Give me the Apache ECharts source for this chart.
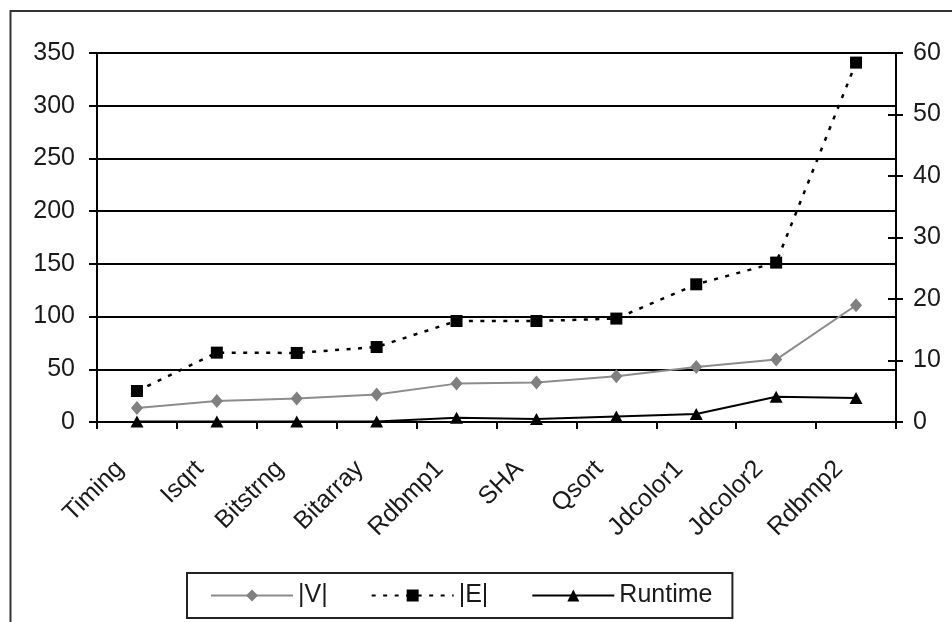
<!DOCTYPE html>
<html>
<head>
<meta charset="utf-8">
<script src="https://cdn.jsdelivr.net/npm/echarts@6/dist/echarts.min.js"></script>
<style>
html,body{margin:0;padding:0;background:#fff;}
#chart{width:952px;height:622px;}
</style>
</head>
<body>
<div id="chart"></div>
<script>
var categories = ["Timing","Isqrt","Bitstrng","Bitarray","Rdbmp1","SHA","Qsort","Jdcolor1","Jdcolor2","Rdbmp2"];
var vValues = [13.3, 19.9, 22.2, 26, 36.4, 37.4, 43.3, 52.2, 59.2, 110.7];
var eValues = [29.4, 65.8, 65.5, 71.1, 95.8, 95.8, 98.1, 130.6, 151.2, 340.9];
var runtimeValues = [0.1, 0.1, 0.1, 0.1, 0.7, 0.5, 0.9, 1.3, 4.1, 3.9];
var seriesNames = ["|V|", "|E|", "Runtime"];
var leftTicks = {min: 0, max: 350, interval: 50};
var rightTicks = {min: 0, max: 60, interval: 10};

var FONT = "'Liberation Sans', Arial, sans-serif";
var chart = echarts.init(document.getElementById('chart'), null, {renderer: 'canvas'});
chart.setOption({
  animation: false,
  backgroundColor: '#ffffff',
  graphic: [{
    type: 'rect',
    shape: {x: 10.5, y: 11, width: 1000, height: 700},
    style: {fill: 'none', stroke: '#333', lineWidth: 2},
    silent: true
  }],
  grid: {left: 97, right: 56, top: 53, bottom: 200, containLabel: false, outerBoundsMode: 'none'},
  legend: {
    left: 187, top: 573,
    orient: 'horizontal',
    data: seriesNames,
    itemWidth: 82, itemHeight: 15, itemGap: 43,
    padding: [10, 20, 10, 23],
    borderColor: '#222', borderWidth: 2,
    textStyle: {fontFamily: FONT, fontSize: 25, color: '#1a1a1a', lineHeight: 25}
  },
  xAxis: {
    type: 'category',
    data: categories,
    boundaryGap: true,
    axisLine: {lineStyle: {color: '#000', width: 2}},
    axisTick: {show: true, inside: false, length: 7, lineStyle: {color: '#000', width: 2}},
    axisLabel: {
      rotate: 45, margin: 26, interval: 0,
      padding: [0, 24, 0, 0],
      fontFamily: FONT, fontSize: 25, color: '#1a1a1a'
    },
    splitLine: {show: false}
  },
  yAxis: [{
    type: 'value', position: 'left',
    min: leftTicks.min, max: leftTicks.max, interval: leftTicks.interval,
    axisLine: {show: true, lineStyle: {color: '#000', width: 2}},
    axisTick: {show: true, inside: false, length: 8, lineStyle: {color: '#000', width: 2}},
    axisLabel: {margin: 22, fontFamily: FONT, fontSize: 25, color: '#1a1a1a'},
    splitLine: {show: true, lineStyle: {color: '#000', width: 2}}
  }, {
    type: 'value', position: 'right',
    min: rightTicks.min, max: rightTicks.max, interval: rightTicks.interval,
    axisLine: {show: true, lineStyle: {color: '#000', width: 2}},
    axisTick: {show: true, inside: false, length: 7, lineStyle: {color: '#000', width: 2}},
    axisLabel: {margin: 17, fontFamily: FONT, fontSize: 25, color: '#1a1a1a'},
    splitLine: {show: false}
  }, {
    type: 'value', position: 'right', offset: 0,
    min: rightTicks.min, max: rightTicks.max, interval: rightTicks.interval,
    axisLine: {show: false},
    axisTick: {show: true, inside: true, length: 8, lineStyle: {color: '#000', width: 2}},
    axisLabel: {show: false},
    splitLine: {show: false}
  }],
  series: [{
    name: seriesNames[0], type: 'line', yAxisIndex: 0,
    data: vValues,
    symbol: 'diamond', symbolSize: [12, 14],
    itemStyle: {color: '#808080'},
    lineStyle: {color: '#8c8c8c', width: 2}
  }, {
    name: seriesNames[1], type: 'line', yAxisIndex: 0,
    data: eValues,
    symbol: 'rect', symbolSize: 12,
    itemStyle: {color: '#000'},
    lineStyle: {color: '#000', width: 2.5, type: [4, 7.5]}
  }, {
    name: seriesNames[2], type: 'line', yAxisIndex: 1,
    data: runtimeValues,
    symbol: 'triangle', symbolSize: [13, 12],
    itemStyle: {color: '#000'},
    lineStyle: {color: '#000', width: 2}
  }]
});
</script>
</body>
</html>
